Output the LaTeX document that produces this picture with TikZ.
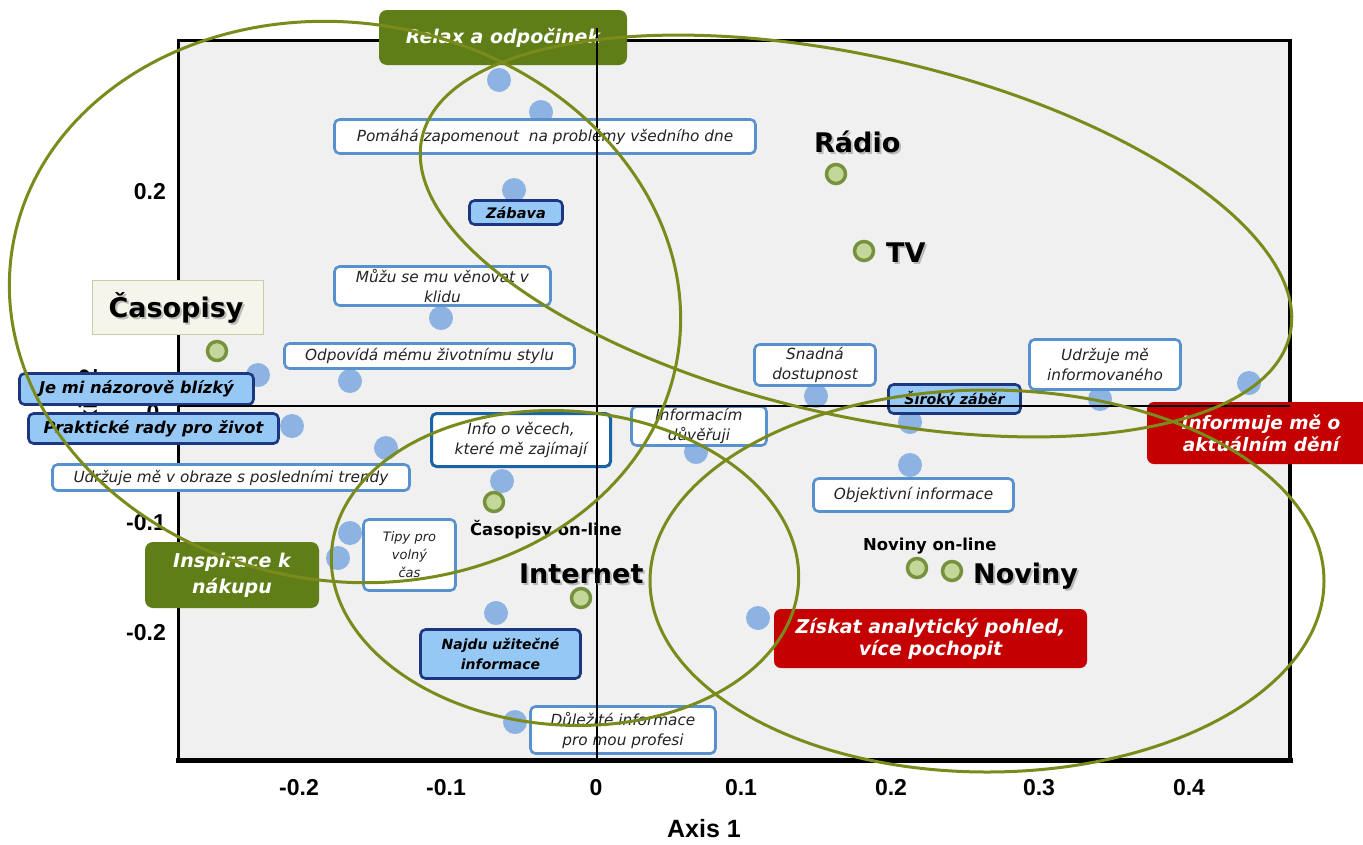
\documentclass[tikz,border=0pt]{standalone}
\usepackage{fontspec}
\setmainfont{DejaVu Sans}
\newfontfamily\tickfont{Liberation Sans}
\definecolor{ellcol}{RGB}{122,139,28}
\definecolor{plotbg}{RGB}{240,240,240}
\definecolor{dotcol}{RGB}{141,179,226}
\definecolor{wbord}{RGB}{88,145,205}
\definecolor{wbordd}{RGB}{25,100,165}
\definecolor{lbfill}{RGB}{150,200,245}
\definecolor{lbbord}{RGB}{28,55,128}
\definecolor{gboxcol}{RGB}{95,126,24}
\definecolor{rboxcol}{RGB}{196,0,0}
\definecolor{gring}{RGB}{118,146,60}
\definecolor{gfill}{RGB}{196,215,155}
\definecolor{cbfill}{RGB}{245,245,236}
\definecolor{cbbord}{RGB}{200,205,165}
\definecolor{txtcol}{RGB}{35,35,35}
\newcommand{\setfs}[2]{\fontsize{#1}{#2}\selectfont}
\tikzset{
  wbox/.style={draw=wbord, line width=2.6, fill=white, rounded corners=5, inner sep=0, align=center, text=txtcol, font=\setfs{15.3}{20}\itshape},
  lbbox/.style={draw=lbbord, line width=2.6, fill=lbfill, rounded corners=5, inner sep=0, align=center, text=black, font=\setfs{16.3}{20}\bfseries\itshape},
  gbx/.style={fill=gboxcol, rounded corners=8, inner sep=0, align=center, text=white, font=\setfs{19}{26}\bfseries\itshape},
  rbx/.style={fill=rboxcol, rounded corners=7, inner sep=0, align=center, text=white, font=\setfs{19}{22}\bfseries\itshape},
  bdot/.style={circle, fill=dotcol, minimum size=24, inner sep=0},
  gmark/.style={circle, draw=gring, line width=3.5, fill=gfill, minimum size=19, inner sep=0},
  ell/.style={draw=ellcol, line width=3},
  medlab/.style={font=\setfs{27}{30}\bfseries, inner sep=0, anchor=base west},
  smlab/.style={font=\setfs{16.4}{18}\bfseries, inner sep=0, anchor=base west},
  shd/.style={text=black!45, opacity=0.55},
  tk/.style={font=\tickfont\bfseries\setfs{23}{23}, inner sep=0},
  axl/.style={font=\tickfont\bfseries\setfs{25}{25}, inner sep=0},
}
\begin{document}
\begin{tikzpicture}[x=1pt,y=-1pt]
\useasboundingbox (0,0) rectangle (1363,844);
% plot frame
\fill[plotbg] (178,40) rectangle (1290,760);
\draw[line width=3] (178,40) rectangle (1290,760);
\draw[line width=5] (176,760) -- (1292.5,760);
\draw[line width=4] (1290,38.5) -- (1290,762);
% tick labels
\node[tk] (xm2) at (299,788) {-0.2};
\node[tk] (xm1) at (446,788) {-0.1};
\node[tk] (x0) at (596,788) {0};
\node[tk] (x1) at (741,788) {0.1};
\node[tk] (x2) at (891,788) {0.2};
\node[tk] (x3) at (1039,788) {0.3};
\node[tk] (x4) at (1189,788) {0.4};
\node[tk, anchor=east] (y2) at (166,192) {0.2};
\node[tk] (y0) at (153,413) {0};
\node[tk, anchor=east] (ym1) at (166,523) {-0.1};
\node[tk, anchor=east] (ym2) at (166,633) {-0.2};
\node[axl] (ax1) at (704,829) {Axis 1};
\node[axl, rotate=90] (ax2) at (88,405) {Axis 2};
% data points
\foreach \px/\py [count=\i] in {499/80,541/112,514/190,441/318,350/381,258/375,292/426,386/448,502/481,696/452,816/396,910/422,910/465,1100/399,1249/383,350/533,338/558,496/613,758/618,515/722}
  \node[bdot] (d\i) at (\px,\py) {};
% media markers
\node[gmark] (m-radio) at (836,174) {};
\node[gmark] (m-tv) at (864,251) {};
\node[gmark] (m-cas) at (217,351) {};
\node[gmark] (m-casol) at (494,502) {};
\node[gmark] (m-int) at (581,598) {};
\node[gmark] (m-novol) at (917,568) {};
\node[gmark] (m-nov) at (952,571) {};
% white boxes
\node[wbox, minimum width=421, minimum height=34] (b-pomaha) at (545,136.5) {Pomáhá zapomenout\ \ na problémy všedního dne};
\node[wbox, minimum width=216, minimum height=39] (b-muzu) at (442.5,286) {Můžu se mu věnovat v\\klidu};
\node[wbox, minimum width=290, minimum height=25] (b-odpov) at (429.5,356) {Odpovídá mému životnímu stylu};
\node[wbox, minimum width=357, minimum height=26] (b-trendy) at (231,477.5) {Udržuje mě v obraze s posledními trendy};
\node[wbox, draw=wbordd, line width=3, minimum width=179, minimum height=53] (b-info) at (521,440) {Info o věcech,\\které mě zajímají};
\node[wbox, minimum width=135, minimum height=39] (b-duver) at (699,426) {Informacím\\důvěřuji};
\node[wbox, minimum width=92, minimum height=71, font=\setfs{13}{18}\itshape] (b-tipy) at (409.5,555) {Tipy pro\\volný\\čas};
\node[wbox, minimum width=121, minimum height=41] (b-snadna) at (815,365) {Snadná\\dostupnost};
\node[wbox, minimum width=151, minimum height=50] (b-udrz) at (1105,364.5) {Udržuje mě\\informovaného};
\node[wbox, minimum width=200, minimum height=33] (b-objekt) at (913.5,495) {Objektivní informace};
\node[wbox, minimum width=185, minimum height=47] (b-dulez) at (623,730) {Důležité informace\\pro mou profesi};
% light blue boxes
\node[lbbox, minimum width=93, minimum height=24, font=\setfs{14.5}{18}\bfseries\itshape] (b-zabava) at (516,212.5) {Zábava};
\node[lbbox, minimum width=234, minimum height=31] (b-jemi) at (136.5,389) {Je mi názorově blízký};
\node[lbbox, minimum width=250, minimum height=30] (b-prakt) at (153.5,428.5) {Praktické rady pro život};
\node[lbbox, minimum width=132, minimum height=29, font=\setfs{14.2}{18}\bfseries\itshape] (b-siroky) at (954.5,399) {Široký záběr};
\node[lbbox, minimum width=160, minimum height=49, font=\setfs{14}{20}\bfseries\itshape] (b-najdu) at (500.5,654) {Najdu užitečné\\informace};
% green boxes
\node[gbx, minimum width=248, minimum height=55] (b-relax) at (503,37.5) {Relax a odpočinek};
\node[gbx, minimum width=174, minimum height=66] (b-inspir) at (232,575) {Inspirace k\\nákupu};
% red boxes
\node[rbx, font=\setfs{18.5}{22}\bfseries\itshape, minimum width=228, minimum height=62] (b-inform) at (1261,433) {Informuje mě o\\aktuálním dění};
\node[rbx, minimum width=313, minimum height=59] (b-ziskat) at (930.5,638.5) {Získat analytický pohled,\\více pochopit};
% Casopisy box
\node[draw=cbbord, line width=1.2, fill=cbfill, minimum width=171, minimum height=54, inner sep=0] (b-cas) at (178,307.5) {};
% axes
\coordinate (vt) at (597,28);
\coordinate (vb) at (597,760);
\coordinate (hl) at (178,406);
\coordinate (hr) at (1290,406);
\draw[line width=1.8] (vt) -- (vb);
\draw[line width=1.8] (hl) -- (hr);
% media labels with shadows
\node[medlab, shd] (l-radio-s) at (816,154.5) {Rádio};
\node[medlab] (l-radio) at (814,152) {Rádio};
\node[medlab, shd] (l-tv-s) at (888,264.5) {TV};
\node[medlab] (l-tv) at (886,262) {TV};
\node[medlab, shd] (l-nov-s) at (975,585.5) {Noviny};
\node[medlab] (l-nov) at (973,583) {Noviny};
\node[medlab, shd] (l-int-s) at (521,585.5) {Internet};
\node[medlab] (l-int) at (519,583) {Internet};
\node[medlab, shd, anchor=base] (l-cas-s) at (178,319.5) {Časopisy};
\node[medlab, anchor=base] (l-cas) at (176,317) {Časopisy};
\node[smlab] (l-casol) at (470,535) {Časopisy on-line};
\node[smlab] (l-novol) at (863,550) {Noviny on-line};
% ellipses
\draw[ell, rotate around={-9.3:(345,302)}] (345,302) ellipse [x radius=337, y radius=279];
\draw[ell, rotate around={-12.8:(856,236)}] (856,236) ellipse [x radius=445, y radius=179.5];
\draw[ell, rotate around={-4:(565,568)}] (565,568) ellipse [x radius=234, y radius=157];
\draw[ell] (987,581) ellipse [x radius=337, y radius=191];
\end{tikzpicture}
\end{document}
